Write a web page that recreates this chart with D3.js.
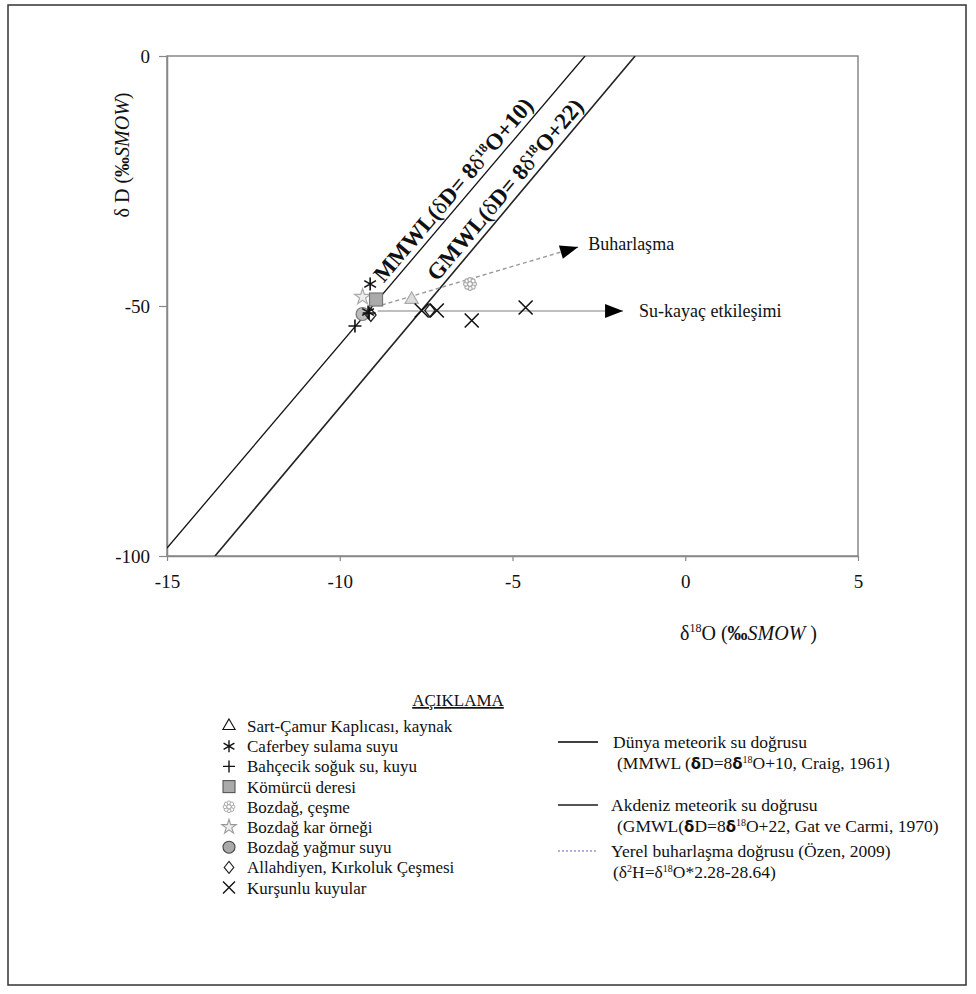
<!DOCTYPE html>
<html><head><meta charset="utf-8">
<script src="https://cdn.jsdelivr.net/npm/d3@7"></script>
<style>
html,body{margin:0;padding:0;background:#fff;}
text{font-family:"Liberation Serif","Times New Roman",serif;fill:#111;}
</style></head>
<body>
<svg id="chart" width="976" height="994"></svg>
<script>
// ---------- data ----------
const xTicks = [-15, -10, -5, 0, 5];
const yTicks = [-100, -50, 0];
const sartCamur    = [[-7.92, -48.7]];
const caferbey     = [[-9.12, -45.6], [-9.18, -51.2]];
const bahcecik     = [[-9.56, -54.0], [-9.15, -51.4]];
const komurcu      = [[-8.95, -48.7]];
const bozdagCesme  = [[-6.23, -45.6]];
const bozdagKar    = [[-9.34, -48.2]];
const bozdagYagmur = [[-9.34, -51.6]];
const allahdiyen   = [[-7.39, -50.9], [-9.1, -51.8]];
const kursunlu     = [[-7.63, -50.9], [-7.19, -50.9], [-6.18, -52.9], [-4.62, -50.3]];
const mmwlLine  = [[-15, -98.4], [-2.9, 0]];
const gmwlLine  = [[-13.61, -100], [-1.45, 0]];
const evapLine  = [[-8.78, -49.8], [-3.10, -38.2]];
const rockLine  = [[-8.9, -51.0], [-1.8, -51.0]];
const legendLabels = ["Sart-Çamur Kaplıcası, kaynak","Caferbey sulama suyu","Bahçecik soğuk su, kuyu",
  "Kömürcü deresi","Bozdağ, çeşme","Bozdağ kar örneği","Bozdağ yağmur suyu",
  "Allahdiyen, Kırkoluk Çeşmesi","Kurşunlu kuyular"];

// ---------- setup ----------
const svg = d3.select("#chart");
const M = {left:167, right:858, top:56, bottom:556};
const x = d3.scaleLinear().domain([-15, 5]).range([M.left, M.right]);
const y = d3.scaleLinear().domain([-100, 0]).range([M.bottom, M.top]);
const fmt = d => String(d);

// outer frame
svg.append("rect").attr("x",8).attr("y",5).attr("width",958).attr("height",980)
  .attr("fill","none").attr("stroke","#333").attr("stroke-width",1.5);

// plot box
svg.append("rect").attr("x",M.left).attr("y",M.top).attr("width",M.right-M.left).attr("height",M.bottom-M.top)
  .attr("fill","none").attr("stroke","#888").attr("stroke-width",1.5);

// axes
const yAx = svg.append("g").attr("transform",`translate(${M.left},0)`)
  .call(d3.axisLeft(y).tickValues(yTicks).tickFormat(fmt).tickSize(8).tickSizeOuter(0).tickPadding(9));
const xAx = svg.append("g").attr("transform",`translate(0,${M.bottom})`)
  .call(d3.axisBottom(x).tickValues(xTicks).tickFormat(fmt).tickSize(5).tickSizeOuter(0).tickPadding(14));
[yAx,xAx].forEach(a=>{
  a.select(".domain").attr("stroke","#888").attr("stroke-width",1.5);
  a.selectAll(".tick line").attr("stroke","#888").attr("stroke-width",1.2);
  a.selectAll(".tick text").style("font-family","Liberation Serif").style("font-size","19px").attr("fill","#111");
});

// clip
svg.append("clipPath").attr("id","clip").append("rect")
  .attr("x",M.left).attr("y",M.top).attr("width",M.right-M.left).attr("height",M.bottom-M.top);
const plot = svg.append("g").attr("clip-path","url(#clip)");
const line = d3.line().x(d=>x(d[0])).y(d=>y(d[1]));

plot.append("path").attr("d",line(mmwlLine)).attr("stroke","#111").attr("stroke-width",1.3).attr("fill","none");
plot.append("path").attr("d",line(gmwlLine)).attr("stroke","#222").attr("stroke-width",1.6).attr("fill","none");

// arrow helper
function arrow(data, stroke, dash){
  svg.append("path").attr("d",line(data)).attr("stroke",stroke).attr("stroke-width",1.4)
    .attr("fill","none").attr("stroke-dasharray",dash||null);
  const p0=[x(data[0][0]),y(data[0][1])], p1=[x(data[1][0]),y(data[1][1])];
  const ang = Math.atan2(p1[1]-p0[1], p1[0]-p0[0])*180/Math.PI;
  svg.append("path").attr("d","M0,0 L-18,-7 L-18,7 Z").attr("fill","#000")
    .attr("transform",`translate(${p1[0]},${p1[1]}) rotate(${ang})`);
}
arrow(evapLine, "#999", "4,3");
arrow(rockLine, "#aaa", null);

svg.append("text").attr("x",x(evapLine[1][0])+10).attr("y",y(evapLine[1][1])+3)
  .style("font-size","18px").text("Buharlaşma");
svg.append("text").attr("x",x(rockLine[1][0])+16).attr("y",y(rockLine[1][1])+6)
  .style("font-size","18px").text("Su-kayaç etkileşimi");

// line labels
function lineLabel(data, yv, name, tail){
  const p0=[x(data[0][0]),y(data[0][1])], p1=[x(data[1][0]),y(data[1][1])];
  const ang = Math.atan2(p1[1]-p0[1], p1[0]-p0[0])*180/Math.PI;
  const t = (yv - data[0][1])/(data[1][1]-data[0][1]);
  const xv = data[0][0] + t*(data[1][0]-data[0][0]);
  const tx = svg.append("text").attr("transform",`translate(${x(xv)},${y(yv)}) rotate(${ang}) translate(0,-6)`)
    .style("font-size","23px").style("font-weight","bold");
  tx.append("tspan").text(name+"(");
  tx.append("tspan").style("font-weight","normal").text("δ");
  tx.append("tspan").text("D= 8");
  tx.append("tspan").style("font-weight","normal").text("δ");
  tx.append("tspan").attr("dy",-8).style("font-size","13px").text("18");
  tx.append("tspan").attr("dy",8).text("O+"+tail+")");
}
lineLabel(mmwlLine, -46.3, "MMWL", "10");
lineLabel(gmwlLine, -46, "GMWL", "22");

// symbols
const sym = {
  tri:  (g,s)=>g.append("path").attr("d",d3.symbol(d3.symbolTriangle, s*s*0.45)()),
  ast:  (g,s)=>g.append("path").attr("d",`M0,${-s/2}V${s/2}M${-s*0.45},${-s*0.26}L${s*0.45},${s*0.26}M${-s*0.45},${s*0.26}L${s*0.45},${-s*0.26}`),
  plus: (g,s)=>g.append("path").attr("d",`M0,${-s/2}V${s/2}M${-s/2},0H${s/2}`),
  sq:   (g,s)=>g.append("rect").attr("x",-s/2).attr("y",-s/2).attr("width",s).attr("height",s),
  flower:(g,s)=>{ for(let i=0;i<8;i++){const a=i*Math.PI/4; g.append("circle").attr("cx",Math.cos(a)*s*0.33).attr("cy",Math.sin(a)*s*0.33).attr("r",s*0.16);} g.append("circle").attr("r",s*0.18); return g;},
  star: (g,s)=>g.append("path").attr("d",d3.symbol(d3.symbolStar, s*s*0.45)()),
  circ: (g,s)=>g.append("circle").attr("r",s/2),
  dia:  (g,s)=>g.append("path").attr("d",`M0,${-s/2}L${s*0.4},0L0,${s/2}L${-s*0.4},0Z`),
  x:    (g,s)=>g.append("path").attr("d",`M${-s/2},${-s/2}L${s/2},${s/2}M${-s/2},${s/2}L${s/2},${-s/2}`)
};
const styles = {
  tri:   {plot:{fill:"#ddd",stroke:"#aaa",sw:1.2}, leg:{fill:"none",stroke:"#111",sw:1.1}},
  ast:   {plot:{fill:"none",stroke:"#111",sw:1.6}, leg:{fill:"none",stroke:"#111",sw:1.4}},
  plus:  {plot:{fill:"none",stroke:"#111",sw:1.6}, leg:{fill:"none",stroke:"#111",sw:1.4}},
  sq:    {plot:{fill:"#aaa",stroke:"#777",sw:1.2}, leg:{fill:"#aaa",stroke:"#555",sw:1.1}},
  flower:{plot:{fill:"#fff",stroke:"#aaa",sw:1.1}, leg:{fill:"#fff",stroke:"#aaa",sw:1.0}},
  star:  {plot:{fill:"#eee",stroke:"#aaa",sw:1.2}, leg:{fill:"#eee",stroke:"#999",sw:1.1}},
  circ:  {plot:{fill:"#bbb",stroke:"#777",sw:1.2}, leg:{fill:"#aaa",stroke:"#444",sw:1.1}},
  dia:   {plot:{fill:"none",stroke:"#222",sw:1.3}, leg:{fill:"none",stroke:"#222",sw:1.1}},
  x:     {plot:{fill:"none",stroke:"#111",sw:1.6}, leg:{fill:"none",stroke:"#111",sw:1.4}}
};
const seriesList = [
  [sartCamur,"tri"],[caferbey,"ast"],[bahcecik,"plus"],[komurcu,"sq"],[bozdagCesme,"flower"],
  [bozdagKar,"star"],[bozdagYagmur,"circ"],[allahdiyen,"dia"],[kursunlu,"x"]
];
function drawSym(parent,type,cx,cy,size,st){
  const g = parent.append("g").attr("transform",`translate(${cx},${cy})`);
  sym[type](g,size);
  g.selectAll("*").attr("fill",st.fill).attr("stroke",st.stroke).attr("stroke-width",st.sw);
}
const drawOrder = [6,7,2,0,4,5,3,1,8];
drawOrder.forEach(i=>{
  const [data,type]=seriesList[i];
  data.forEach(d=>drawSym(svg,type,x(d[0]),y(d[1]),type==="x"?14:13,styles[type].plot));
});

// axis titles
const xt = svg.append("text").attr("x",680).attr("y",640).style("font-size","20px");
xt.append("tspan").text("δ");
xt.append("tspan").attr("dy",-8).style("font-size","12px").text("18");
xt.append("tspan").attr("dy",8).text("O (");
xt.append("tspan").style("font-weight","bold").text("‰");
xt.append("tspan").style("font-style","italic").text("SMOW");
xt.append("tspan").text(" )");

const yt = svg.append("text").attr("transform","translate(129,155) rotate(-90)").attr("text-anchor","middle").style("font-size","20px");
yt.append("tspan").text("δ D (");
yt.append("tspan").style("font-weight","bold").text("‰");
yt.append("tspan").style("font-style","italic").text("SMOW");
yt.append("tspan").text(")");

// legend title
svg.append("text").attr("x",458).attr("y",706).attr("text-anchor","middle")
  .style("font-size","17px").style("text-decoration","underline").text("AÇIKLAMA");

// left legend
const legY0 = 726, legDY = 20.2;
seriesList.forEach(([data,type],i)=>{
  const cy = legY0 + i*legDY;
  drawSym(svg,type,229,cy,12,styles[type].leg);
  svg.append("text").attr("x",247).attr("y",cy+6).style("font-size","17px").text(legendLabels[i]);
});

// right legend
const RF = "17.5px";
svg.append("line").attr("x1",558).attr("x2",598).attr("y1",742).attr("y2",742).attr("stroke","#000").attr("stroke-width",1.3);
svg.append("text").attr("x",613).attr("y",748).style("font-size",RF).text("Dünya meteorik su doğrusu");
let t2 = svg.append("text").attr("x",617).attr("y",769).style("font-size",RF);
t2.append("tspan").text("(MMWL (");
t2.append("tspan").style("font-weight","bold").style("font-family","DejaVu Sans").style("font-size","15px").text("δ");
t2.append("tspan").text("D=8");
t2.append("tspan").style("font-weight","bold").style("font-family","DejaVu Sans").style("font-size","15px").text("δ");
t2.append("tspan").attr("dy",-6).style("font-size","10px").text("18");
t2.append("tspan").attr("dy",6).text("O+10, Craig, 1961)");

svg.append("line").attr("x1",558).attr("x2",598).attr("y1",805).attr("y2",805).attr("stroke","#555").attr("stroke-width",2.2);
svg.append("text").attr("x",611).attr("y",811).style("font-size",RF).text("Akdeniz meteorik su doğrusu");
let t3 = svg.append("text").attr("x",617).attr("y",832).style("font-size",RF);
t3.append("tspan").text("(GMWL(");
t3.append("tspan").style("font-weight","bold").style("font-family","DejaVu Sans").style("font-size","15px").text("δ");
t3.append("tspan").text("D=8");
t3.append("tspan").style("font-weight","bold").style("font-family","DejaVu Sans").style("font-size","15px").text("δ");
t3.append("tspan").attr("dy",-6).style("font-size","10px").text("18");
t3.append("tspan").attr("dy",6).text("O+22, Gat ve Carmi,  1970)");

svg.append("line").attr("x1",558).attr("x2",598).attr("y1",851).attr("y2",851).attr("stroke","#6a5fc0").attr("stroke-width",1.2).attr("stroke-dasharray","2,2");
svg.append("text").attr("x",611).attr("y",857).style("font-size",RF).text("Yerel buharlaşma doğrusu (Özen, 2009)");
let t4 = svg.append("text").attr("x",613).attr("y",878).style("font-size",RF);
t4.append("tspan").text("(δ");
t4.append("tspan").attr("dy",-6).style("font-size","10px").text("2");
t4.append("tspan").attr("dy",6).text("H=δ");
t4.append("tspan").attr("dy",-6).style("font-size","10px").text("18");
t4.append("tspan").attr("dy",6).text("O*2.28-28.64)");
</script>
</body></html>
